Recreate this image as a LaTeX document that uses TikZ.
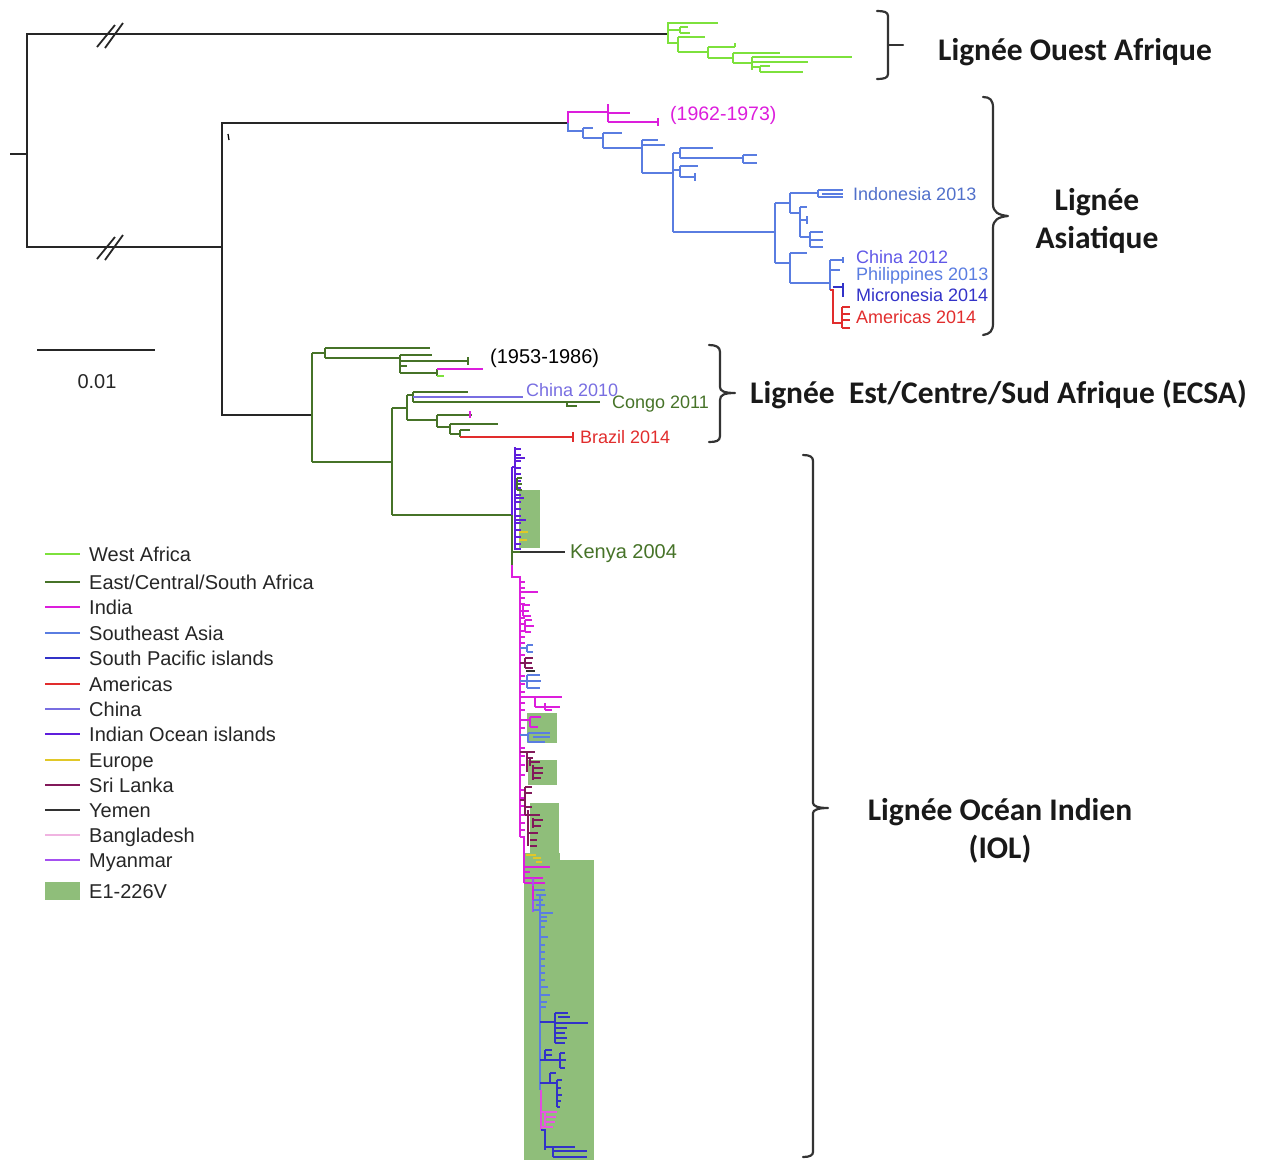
\documentclass[tikz,border=0pt]{standalone}
\usepackage{fontspec}
\setmainfont{Liberation Sans}
\newfontfamily\calib{Carlito}
\definecolor{cWA}{RGB}{125,225,60}
\definecolor{cECSA}{RGB}{70,115,40}
\definecolor{cIN}{RGB}{220,30,220}
\definecolor{cSEA}{RGB}{90,125,225}
\definecolor{cSP}{RGB}{50,50,200}
\definecolor{cAM}{RGB}{225,45,45}
\definecolor{cCN}{RGB}{120,110,225}
\definecolor{cIO}{RGB}{95,30,220}
\definecolor{cEU}{RGB}{225,200,40}
\definecolor{cSL}{RGB}{130,25,90}
\definecolor{cYE}{RGB}{50,50,50}
\definecolor{cBD}{RGB}{240,180,225}
\definecolor{cMY}{RGB}{165,80,240}
\definecolor{cBOX}{RGB}{143,190,122}
\tikzset{
 tr/.style={line width=2.2pt},
 ttr/.style={line width=1.7pt},
 bk/.style={line width=2.3pt, black!85},
 lab/.style={font=\fontsize{18}{20}\selectfont, anchor=base west, inner sep=0pt},
 lin/.style={font=\calib\bfseries\fontsize{31.5}{38}\selectfont, inner sep=0pt, text=black!90},
 leg/.style={font=\fontsize{20}{22}\selectfont, anchor=base west, inner sep=0pt, text=black!85},
 brk/.style={line width=2.2pt, black!80, line cap=round, line join=round},
 legline/.style={line width=2.3pt}
}
\begin{document}
\begin{tikzpicture}[x=1pt,y=-1pt]
\useasboundingbox (0,0) rectangle (1268,1160);
% ---------- green E1-226V boxes ----------
\fill[cBOX] (519,490) rectangle (540,548);
\fill[cBOX] (527,713) rectangle (557,743);
\fill[cBOX] (528,760) rectangle (557,785);
\fill[cBOX] (530,803) rectangle (559,862);
\fill[cBOX] (524,853) rectangle (560,862);
\fill[cBOX] (524,860) rectangle (594,1160);
% ---------- backbone ----------
\draw[bk] (10,154)--(27,154);
\draw[bk] (667,34)--(27,34)--(27,247)--(222,247);
\draw[bk] (568,123)--(222,123)--(222,415)--(312,415);
\draw[bk, line width=1.8pt] (97,47)--(115,25) (105,48)--(123,23);
\draw[bk, line width=1.8pt] (97,259)--(115,237) (105,260)--(123,235);
\draw[line width=1.3pt] (228,134)--(229,140);
% scale bar
\draw[bk] (37,350)--(155,350);
\node[leg, anchor=base] (scl) at (97,388) {0.01};
% ---------- West Africa ----------
\draw[tr,cWA] (718,23)--(668,23)--(668,43)--(678,43);
\draw[tr,cWA] (668,30)--(680,30) (680,27)--(680,33) (680,27)--(688,27) (680,33)--(690,33);
\draw[tr,cWA] (678,37)--(678,52) (678,37)--(705,37) (678,52)--(708,52);
\draw[tr,cWA] (708,47)--(708,58) (708,47)--(735,47) (735,43)--(735,47) (708,58)--(733,58);
\draw[tr,cWA] (733,53)--(733,63) (733,53)--(780,53) (733,63)--(752,63);
\draw[tr,cWA] (752,57)--(752,70) (752,57)--(852,57) (752,62)--(808,62) (752,67)--(760,67);
\draw[tr,cWA] (760,66)--(760,72) (760,72)--(803,72) (760,66)--(770,66);
% ---------- Asian lineage ----------
\draw[tr,cIN] (568,123)--(568,112)--(608,112) (608,104)--(608,122) (608,113)--(630,113) (608,122)--(658,122) (658,118)--(658,126);
\node[lab, text=cIN, font=\fontsize{19.5}{21}\selectfont] (l6273) at (670,120) {(1962-1973)};
\draw[tr,cSEA] (568,123)--(568,131)--(583,131) (583,128)--(583,138) (583,128)--(593,128) (583,138)--(603,138);
\draw[tr,cSEA] (603,133)--(603,148) (603,133)--(622,133) (603,148)--(642,148);
\draw[tr,cSEA] (642,140)--(642,173) (642,140)--(658,140) (642,145)--(665,145) (642,173)--(673,173);
\draw[tr,cSEA] (673,153)--(673,232) (673,153)--(680,153) (680,148)--(680,158) (680,148)--(713,148) (680,158)--(743,158);
\draw[tr,cSEA] (743,155)--(743,163) (743,155)--(757,155) (743,163)--(757,163);
\draw[tr,cSEA] (673,170)--(680,170) (680,166)--(680,177) (680,166)--(698,166) (680,177)--(695,177) (695,173)--(695,181);
\draw[tr,cSEA] (673,232)--(775,232) (775,203)--(775,263) (775,203)--(790,203) (790,193)--(790,213);
\draw[tr,cSEA] (790,193)--(818,193) (818,190)--(818,197) (818,190)--(843,190) (822,194)--(843,194) (818,197)--(843,197);
\draw[tr,cSEA] (790,213)--(800,213) (800,207)--(800,237) (800,207)--(807,207) (800,220)--(807,220) (807,216)--(807,224) (800,237)--(810,237);
\draw[tr,cSEA] (810,232)--(810,247) (810,232)--(823,232) (810,240)--(823,240) (810,247)--(823,247);
\draw[tr,cSEA] (775,263)--(790,263) (790,253)--(790,283) (790,253)--(807,253) (790,283)--(830,283);
\draw[tr,cSEA] (830,260)--(830,290) (830,260)--(843,260) (843,257)--(843,263) (830,270)--(840,270);
\draw[tr,cSP] (833,287)--(843,287) (843,283)--(843,297);
\draw[tr,cAM] (830,290)--(833,290)--(833,323)--(842,323) (842,307)--(842,328) (842,307)--(850,307) (842,314)--(850,314) (842,320)--(850,320) (842,328)--(850,328);
\node[lab, text=cSEA!90!black] (indo) at (853,200.5) {Indonesia 2013};
\node[lab, text=cCN!80!blue] (ch12) at (856,263.5) {China 2012};
\node[lab, text=cSEA] (phil) at (856,280.5) {Philippines 2013};
\node[lab, text=cSP] (micr) at (856,301.5) {Micronesia 2014};
\node[lab, text=cAM] (amer) at (856,323.5) {Americas 2014};
% ---------- ECSA ----------
\draw[tr,cECSA] (312,353)--(312,462) (312,353)--(325,353) (325,348)--(325,358) (325,348)--(430,348) (325,358)--(400,358);
\draw[tr,cECSA] (400,355)--(400,373) (400,355)--(432,355) (400,361)--(468,361) (468,357)--(468,365) (400,366)--(407,366) (400,373)--(437,373) (437,369)--(437,376);
\draw[tr,cIN] (437,369)--(483,369);
\draw[tr,cWA] (437,376)--(444,376);
\node[lab, font=\fontsize{20}{22}\selectfont] (l5386) at (490,363) {(1953-1986)};
\draw[tr,cECSA] (312,462)--(392,462) (392,408)--(392,515) (392,408)--(407,408) (407,395)--(407,420) (407,395)--(413,395) (413,392)--(413,402) (413,392)--(468,392);
\draw[tr,cCN] (413,397)--(523,397);
\draw[tr,cECSA] (413,402)--(600,402) (567,402)--(567,406)--(577,406);
\draw[tr,cECSA] (407,420)--(437,420) (437,415)--(437,427) (437,415)--(472,415) (437,427)--(450,427) (450,424)--(450,434) (450,424)--(498,424) (450,434)--(460,434) (460,430)--(460,437) (460,430)--(470,430);
\draw[tr,cIN] (470,411)--(470,418);
\draw[tr,cAM] (460,437)--(573,437) (573,432)--(573,442);
\node[lab, text=cCN] (ch10) at (526,396) {China 2010};
\node[lab, text=cECSA] (cong) at (612,408.5) {Congo 2011};
\node[lab, text=cAM] (braz) at (580,443.5) {Brazil 2014};
% ---------- IOL ----------
\draw[tr,cECSA] (392,515)--(512,515);
\draw[tr,cIO] (512,467)--(512,515) (512,467)--(515,467) (515,447)--(515,550);
\foreach \y in {449,455,461,468,474,481,488,495,502,509,516,523,530,537,544,549}
  \draw[ttr,cIO] (515,\y)--(521,\y);
\draw[ttr,cIO] (515,458)--(525,458) (515,498)--(524,498) (515,520)--(526,520);
\draw[ttr,cECSA] (517,478)--(517,490) (517,478)--(522,478) (517,484)--(522,484) (517,490)--(522,490);
\draw[ttr,cEU] (519,532)--(528,532) (519,540)--(527,540);
\draw[tr,cECSA] (512,515)--(512,565) (512,552)--(520,552);
\draw[tr,cYE] (520,552)--(565,552);
\node[lab, text=cECSA, font=\fontsize{20}{22}\selectfont] (keny) at (570,558) {Kenya 2004};
\draw[tr,cIN] (512,565)--(512,577)--(520,577)--(520,837);
\foreach \y in {582,588,598,604,611,618,624,631,637,643,655,663,676,684,692,703,710,720,728,748,756,765,775,790,798,806,815,823,830}
  \draw[ttr,cIN] (520,\y)--(525,\y);
\draw[ttr,cIN] (520,592)--(538,592);
\draw[ttr,cIN] (523,605)--(523,616) (523,605)--(530,605) (523,611)--(529,611) (523,616)--(531,616);
\draw[ttr,cIN] (525,620)--(525,632) (525,620)--(532,620) (525,626)--(534,626) (525,632)--(531,632);
\draw[ttr,cSEA] (520,648)--(527,648) (527,645)--(527,652) (527,645)--(533,645) (527,652)--(533,652);
\draw[ttr,cSL] (520,663)--(525,663) (525,658)--(525,668) (525,658)--(533,658) (525,663)--(532,663) (525,668)--(533,668);
\draw[ttr,cYE] (526,671)--(535,671);
\draw[ttr,cSEA] (520,681)--(527,681) (527,675)--(527,688) (527,675)--(540,675) (527,681)--(541,681) (527,688)--(540,688);
\draw[ttr,cIN] (520,697)--(562,697) (535,697)--(535,707) (535,707)--(560,707) (545,703)--(545,710) (545,710)--(552,710);
\draw[ttr,cIN] (520,720)--(530,720) (530,717)--(530,727) (530,717)--(541,717) (530,727)--(538,727);
\draw[ttr,cSEA] (520,735)--(528,735) (528,733)--(528,742) (528,733)--(550,733) (533,737)--(550,737) (528,742)--(545,742);
\draw[ttr,cSL] (520,752)--(527,752) (527,752)--(527,772) (527,752)--(535,752) (527,758)--(533,758) (530,758)--(530,766) (530,762)--(540,762) (533,765)--(533,780) (533,768)--(543,768) (533,773)--(543,773) (533,778)--(541,778);
\draw[ttr,cSL] (520,800)--(525,800) (525,787)--(525,815) (525,787)--(532,787) (525,793)--(532,793) (525,807)--(532,807) (525,815)--(528,815) (528,810)--(528,846) (528,815)--(540,815) (533,818)--(533,828) (533,820)--(543,820) (533,826)--(541,826) (528,833)--(538,833) (530,840)--(537,840) (530,846)--(537,846);
\draw[ttr,cEU] (526,855)--(536,855) (533,858)--(541,858) (536,862)--(542,862);
\draw[tr,cIN] (520,837)--(524,837)--(524,883);
\draw[ttr,cIN] (524,867)--(550,867) (524,872)--(530,872) (524,878)--(543,878) (524,883)--(545,883);
\draw[ttr,cMY] (533,878)--(533,912);
\draw[ttr,cSEA] (533,890)--(545,890) (536,895)--(546,895) (533,900)--(543,900) (536,905)--(545,905) (533,910)--(540,910);
\draw[ttr,cIN] (533,886)--(533,900);
\draw[tr,cSEA] (536,895)--(540,895)--(540,1090);
\draw[ttr,cSEA] (540,913)--(553,913) (540,917)--(547,917) (540,921)--(547,921) (540,927)--(545,927) (540,937)--(548,937);
\foreach \y in {945,952,959,966,973,980}
  \draw[ttr,cSEA] (540,\y)--(545,\y);
\draw[ttr,cSEA] (540,987)--(548,987) (540,995)--(550,995) (540,1002)--(547,1002) (540,1007)--(546,1007);
\draw[ttr,cSP] (540,1022)--(555,1022) (555,1013)--(555,1043) (555,1013)--(568,1013) (558,1017)--(570,1017) (555,1023)--(588,1023) (555,1028)--(567,1028) (555,1033)--(565,1033) (555,1038)--(567,1038) (555,1043)--(565,1043);
\draw[ttr,cSP] (540,1060)--(560,1060) (545,1050)--(545,1060) (545,1050)--(552,1050) (545,1055)--(552,1055) (560,1053)--(560,1068) (560,1053)--(565,1053) (560,1060)--(566,1060) (560,1068)--(565,1068);
\draw[ttr,cSP] (550,1073)--(550,1083) (550,1073)--(556,1073) (540,1083)--(557,1083) (557,1080)--(557,1107) (557,1080)--(562,1080) (557,1088)--(561,1088) (557,1095)--(562,1095) (557,1101)--(561,1101) (557,1107)--(560,1107);
\draw[tr,cIN!70!cBD] (541,1090)--(541,1130);
\draw[ttr,cIN!60!cBD] (541,1112)--(557,1112) (545,1112)--(545,1127) (545,1117)--(556,1117) (545,1122)--(555,1122) (541,1127)--(553,1127);
\draw[ttr,cSP] (541,1130)--(545,1130)--(545,1150) (545,1147)--(575,1147) (553,1147)--(553,1157) (553,1151)--(587,1151) (553,1157)--(587,1157);
% ---------- brackets ----------
\draw[brk] (877,11) .. controls (884,11) and (888,12) .. (888,16) -- (888,74) .. controls (888,78) and (884,79) .. (877,79);
\draw[brk] (888,45)--(903,45);
\draw[brk] (983,97) .. controls (990,97) and (993,100) .. (993,108) -- (993,204) .. controls (993,212) and (998,215) .. (1008,216) .. controls (998,217) and (993,220) .. (993,228) -- (993,323) .. controls (993,331) and (990,334) .. (983,335);
\draw[brk] (709,345) .. controls (716,345) and (720,347) .. (720,352) -- (720,387) .. controls (720,391) and (724,393) .. (735,393) .. controls (724,393) and (720,395) .. (720,400) -- (720,436) .. controls (720,441) and (716,442) .. (709,442);
\draw[brk] (803,455) .. controls (810,455) and (813,457) .. (813,461) -- (813,803) .. controls (813,806) and (818,808) .. (828,808) .. controls (818,808) and (813,810) .. (813,813) -- (813,1152) .. controls (813,1155) and (810,1157) .. (803,1157);
% ---------- lineage labels ----------
\node[lin, anchor=base west] (lwa) at (938,60) {Lignée Ouest Afrique};
\node[lin, anchor=base] (las1) at (1097,210) {Lignée};
\node[lin, anchor=base] (las2) at (1097,248) {Asiatique};
\node[lin, anchor=base west] (lecsa) at (750,403) {Lignée\ \ Est/Centre/Sud Afrique (ECSA)};
\node[lin, anchor=base] (liol1) at (1000,820) {Lignée Océan Indien};
\node[lin, anchor=base] (liol2) at (1000,858) {(IOL)};
% ---------- legend ----------
\foreach \c/\t/\y in {cWA/West Africa/554, cECSA/East\slash Central\slash South Africa/582, cIN/India/607, cSEA/Southeast Asia/633, cSP/South Pacific islands/658, cAM/Americas/684, cCN/China/709, cIO/Indian Ocean islands/734, cEU/Europe/760, cSL/Sri Lanka/785, cYE/Yemen/810, cBD/Bangladesh/835, cMY/Myanmar/860} {
  \draw[legline,\c] (45,\y)--(80,\y);
  \node[leg] at (89,\y+7) {\t};
}
\fill[cBOX] (45,882) rectangle (80,900);
\node[leg] (le1) at (89,898) {E1-226V};
\end{tikzpicture}
\end{document}
